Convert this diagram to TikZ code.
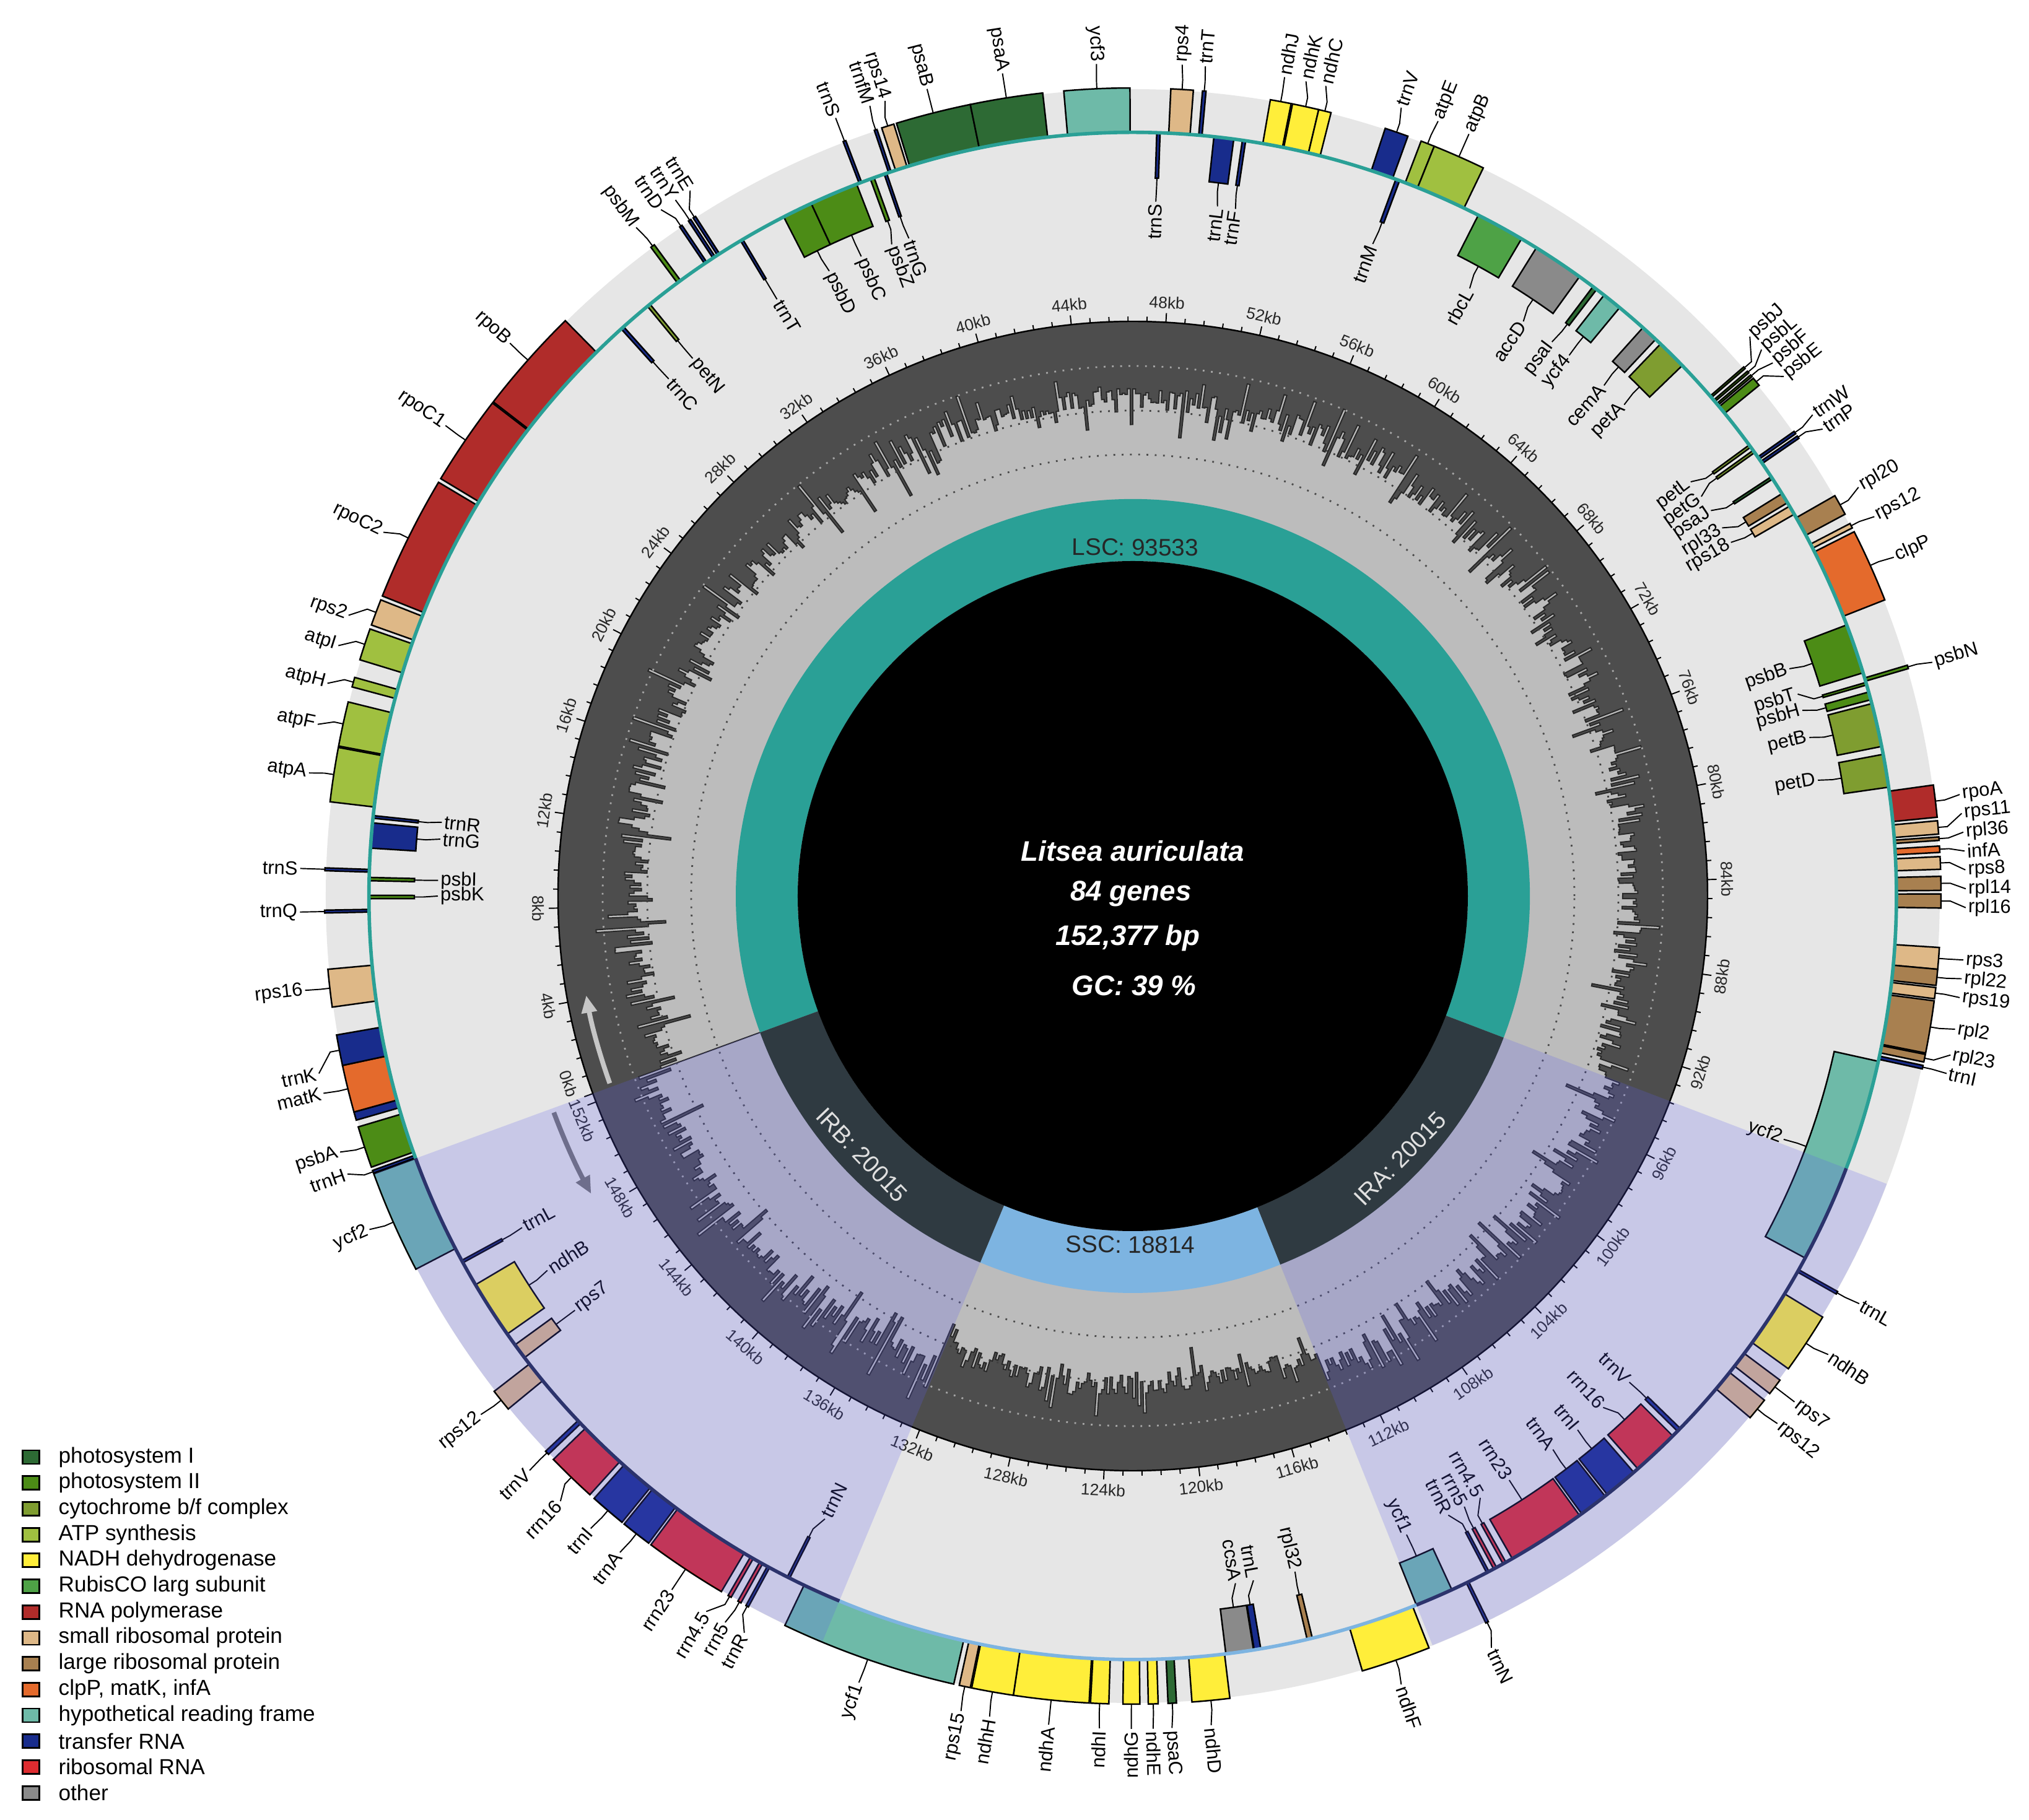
\documentclass[tikz,border=0pt]{standalone}
\usepackage{fontspec}
\setmainfont{Liberation Sans}
\usetikzlibrary{arrows.meta,calc}

% map colours
\definecolor{diskgray}{RGB}{230,230,230}
\definecolor{gcdark}{RGB}{77,77,77}
\definecolor{gclight}{RGB}{188,188,188}
\definecolor{gcedge}{RGB}{40,40,40}
\definecolor{lscteal}{RGB}{42,160,150}
\definecolor{sscblue}{RGB}{125,180,225}
\definecolor{irslate}{RGB}{47,58,65}
\definecolor{irline}{RGB}{30,40,72}
\definecolor{irtint}{RGB}{94,94,239}
\definecolor{arrowslate}{RGB}{110,110,140}
% gene classes
\definecolor{psI}{RGB}{45,106,52}
\definecolor{psII}{RGB}{76,140,22}
\definecolor{cytbf}{RGB}{127,157,48}
\definecolor{atpsyn}{RGB}{160,192,64}
\definecolor{nadh}{RGB}{255,238,58}
\definecolor{rubisco}{RGB}{78,162,70}
\definecolor{rnapol}{RGB}{176,44,42}
\definecolor{smallribo}{RGB}{222,184,135}
\definecolor{largeribo}{RGB}{168,128,80}
\definecolor{clpmat}{RGB}{228,106,44}
\definecolor{hypo}{RGB}{110,186,168}
\definecolor{trna}{RGB}{24,44,140}
\definecolor{rrna}{RGB}{222,44,48}
\definecolor{other}{RGB}{138,138,138}

\tikzset{
  genelabel/.style={font=\fontsize{8.8}{10}\selectfont,inner sep=1pt},
  leader/.style={line width=0.55pt},
  kblabel/.style={font=\fontsize{7.5}{9}\selectfont,text=black!85,inner sep=0pt},
  legbox/.style={draw,line width=0.8pt,minimum width=0.27cm,minimum height=0.22cm,inner sep=0pt},
  legtext/.style={font=\fontsize{10}{12}\selectfont,anchor=west,inner sep=0pt},
  centertext/.style={font=\fontsize{13}{15}\selectfont\bfseries\itshape,text=white},
  regiontext/.style={font=\fontsize{11}{13}\selectfont},
}

% annular sector: start, end, inner r, outer r, fill options
\newcommand\sector[5]{%
  \fill[#5] (#1:#3) arc[start angle=#1,end angle=#2,radius=#3]
    -- (#2:#4) arc[start angle=#2,end angle=#1,radius=#4] -- cycle;}

% gene box on the map: start, end, o(utside)/i(nside), colour
\newcommand\genebox[4]{%
  \if o#3\def\rtop{13.05}\else\def\rtop{11.60}\fi
  \fill[#4,draw=black,line width=0.7pt] (#1:12.33) arc[start angle=#1,end angle=#2,radius=12.33]
    -- (#2:\rtop) arc[start angle=#2,end angle=#1,radius=\rtop] -- cycle;}

% gene with label: start, end, side, colour, name, label angle
\newcount\gid
\newcommand\gene[6]{%
  \genebox{#1}{#2}{#3}{#4}%
  \global\advance\gid by 1
  \edef\gname{g\the\gid}%
  \pgfmathsetmacro\gmid{(#1+#2)/2}%
  \pgfmathtruncatemacro\gright{cos(#6)>=0}%
  \if o#3\def\ra{13.05}\def\rb{13.20}\def\rc{13.45}%
    \ifnum\gright=1 \def\ganc{west}\def\grot{#6}\else\def\ganc{east}\pgfmathsetmacro\grot{#6+180}\fi
  \else\def\ra{11.60}\def\rb{11.45}\def\rc{11.22}%
    \ifnum\gright=1 \def\ganc{east}\def\grot{#6}\else\def\ganc{west}\pgfmathsetmacro\grot{#6+180}\fi
  \fi
  \coordinate (\gname a) at (\gmid:\ra);
  \coordinate (\gname b) at (\gmid:\rb);
  \node[genelabel,anchor=\ganc,rotate=\grot] (\gname) at (#6:\rc) {#5};
  \draw[leader] (\gname a) -- (\gname b) -- (\gname.\ganc);}

\begin{document}
\begin{tikzpicture}

\fill[white] (-18.29,-14.92) rectangle (14.47,14.47);
\useasboundingbox (-18.29,-14.92) rectangle (14.47,14.47);

% outer disk
\fill[diskgray] (0,0) circle (13.03);

% GC content ring
\fill[gcdark] (0,0) circle (9.28);
\pgfmathsetseed{17}
\filldraw[fill=gclight,draw=gcedge,line width=0.55pt] (200.1:6.41)
  \foreach \i in {0,...,1199}{
    let \n1={rand}, \n2={200.1-0.3*\i},
        \n3={8.02+0.25*(\n2<=-20.9)*(\n2>-68.2)-0.15*(\n2<=-68.2)*(\n2>-112.6)+0.25*(\n2<=-112.6)+0.19*rand+0.5*(\n1)*(\n1)*(\n1)*(\n1)*(\n1)}
    in -- (\n2:\n3) -- ({\n2-0.3}:\n3)}
  -- (-159.9:6.41) -- cycle;
\draw[gray!60!black,line width=0.8pt,dash pattern=on 0.8pt off 3pt] (0,0) circle (7.13);
\draw[gray!50!black,line width=0.8pt,dash pattern=on 0.8pt off 3pt] (0,0) circle (7.84);
\draw[gray!70,line width=0.8pt,dash pattern=on 0.8pt off 3pt] (0,0) circle (8.56);
\draw[black,line width=0.7pt] (0,0) circle (9.28);

% ticks and kb labels
\foreach \k in {0,...,190}{
  \pgfmathsetmacro\t{200.1-2.3626*0.8*\k}
  \pgfmathsetmacro\tl{mod(\k,5)==0 ? 0.15 : 0.08}
  \draw[line width=0.55pt] (\t:9.28) -- (\t:9.28+\tl);
}
\foreach \k in {0,4,...,152}{
  \pgfmathsetmacro\t{200.1-2.3626*\k+(\k==0 ? -1.7 : 0)+(\k==152 ? 1.2 : 0)}
  \pgfmathsetmacro\rt{sin(\t)>=0 ? \t-90 : \t+90}
  \node[kblabel,rotate=\rt] (kb\k) at (\t:9.60) {\k kb};
}

% quadripartite ring
\sector{200.1}{-20.9}{5.41}{6.41}{lscteal}
\sector{-20.9}{-68.2}{5.41}{6.41}{irslate}
\sector{-68.2}{-112.6}{5.41}{6.41}{sscblue}
\sector{-112.6}{-159.9}{5.41}{6.41}{irslate}
\fill[black] (0,0) circle (5.41);

% genes: LSC
\gene{199.85}{200.05}{o}{trna}{trnH}{199.5}
\gene{196.6}{199.6}{o}{psII}{psbA}{197.9}
\genebox{195.5}{196.1}{o}{trna}
\gene{192.1}{195.5}{o}{clpmat}{matK}{193.7}
\gene{189.9}{192.1}{o}{trna}{trnK}{192.3}
\gene{185.2}{187.9}{o}{smallribo}{rps16}{186.5}
\gene{181.0}{181.2}{o}{trna}{trnQ}{181.1}
\gene{179.95}{180.2}{i}{psII}{psbK}{180.0}
\gene{178.6}{178.85}{i}{psII}{psbI}{178.7}
\gene{178.0}{178.2}{o}{trna}{trnS}{178.1}
\gene{174.5}{176.4}{i}{trna}{trnG}{175.3}
\gene{173.95}{174.15}{i}{trna}{trnR}{173.9}
\gene{169.4}{173.3}{o}{atpsyn}{atpA}{171.5}
\gene{166.1}{169.3}{o}{atpsyn}{atpF}{168.1}
\gene{164.3}{165.0}{o}{atpsyn}{atpH}{165.2}
\gene{160.7}{163.0}{o}{atpsyn}{atpI}{162.5}
\gene{158.5}{160.4}{o}{smallribo}{rps2}{160.3}
\gene{149.2}{158.2}{o}{rnapol}{rpoC2}{154.1}
\gene{142.4}{148.9}{o}{rnapol}{rpoC1}{145.6}
\gene{134.6}{142.3}{o}{rnapol}{rpoB}{138.4}
\gene{131.8}{132.05}{i}{trna}{trnC}{131.9}
\gene{129.2}{129.45}{i}{cytbf}{petN}{129.3}
\gene{126.3}{126.6}{o}{psII}{psbM}{126.6}
\gene{123.9}{124.1}{o}{trna}{trnD}{124.5}
\gene{123.15}{123.35}{o}{trna}{trnY}{123.3}
\gene{122.75}{122.95}{o}{trna}{trnE}{122.1}
\gene{120.7}{120.9}{i}{trna}{trnT}{120.8}
\gene{114.9}{117.2}{i}{psII}{psbD}{115.9}
\gene{111.2}{114.9}{i}{psII}{psbC}{113.0}
\gene{110.8}{111.0}{o}{trna}{trnS}{110.9}
\gene{109.8}{110.1}{i}{psII}{psbZ}{110.3}
\gene{108.8}{109.0}{i}{trna}{trnG}{108.8}
\gene{108.45}{108.65}{o}{trna}{trnfM}{108.4}
\gene{107.2}{108.1}{o}{smallribo}{rps14}{107.3}
\gene{101.6}{107.0}{o}{psI}{psaB}{104.3}
\gene{96.4}{101.6}{o}{psI}{psaA}{99.0}
\gene{90.2}{94.9}{o}{hypo}{ycf3}{92.5}
\gene{87.95}{88.2}{i}{trna}{trnS}{88.1}
\gene{85.7}{87.3}{o}{smallribo}{rps4}{86.6}
\gene{84.8}{85.05}{o}{trna}{trnT}{85.0}
\gene{82.4}{83.9}{i}{trna}{trnL}{83.0}
\gene{81.5}{81.75}{i}{trna}{trnF}{81.5}
\gene{78.7}{80.2}{o}{nadh}{ndhJ}{79.5}
\gene{76.7}{78.6}{o}{nadh}{ndhK}{78.0}
\gene{75.8}{76.7}{o}{nadh}{ndhC}{76.6}
\gene{70.1}{71.8}{o}{trna}{trnV}{71.2}
\gene{69.55}{69.85}{i}{trna}{trnM}{69.8}
\gene{68.1}{69.1}{o}{atpsyn}{atpE}{68.5}
\gene{64.3}{68.1}{o}{atpsyn}{atpB}{66.2}
\gene{59.4}{63.1}{i}{rubisco}{rbcL}{61.0}
\gene{54.2}{58.1}{i}{other}{accD}{55.8}
\gene{52.6}{52.95}{i}{psI}{psaI}{52.9}
\gene{50.4}{51.9}{i}{hypo}{ycf4}{51.1}
\gene{46.8}{48.1}{i}{other}{cemA}{47.3}
\gene{44.0}{46.3}{i}{cytbf}{petA}{45.0}
\gene{40.75}{40.9}{o}{psII}{psbJ}{42.2}
\gene{40.35}{40.5}{o}{psII}{psbL}{41.0}
\gene{40.0}{40.15}{o}{psII}{psbF}{39.8}
\gene{39.2}{39.85}{o}{psII}{psbE}{38.6}
\gene{36.0}{36.2}{i}{cytbf}{petL}{36.6}
\gene{35.5}{35.7}{i}{cytbf}{petG}{35.1}
\gene{34.9}{35.1}{o}{trna}{trnW}{35.3}
\gene{34.5}{34.7}{o}{trna}{trnP}{34.1}
\gene{33.1}{33.3}{i}{psI}{psaJ}{33.7}
\gene{31.0}{31.8}{i}{largeribo}{rpl33}{32.0}
\gene{30.0}{30.7}{i}{smallribo}{rps18}{30.6}
\gene{28.2}{29.7}{o}{largeribo}{rpl20}{29.4}
\gene{27.1}{27.45}{o}{smallribo}{rps12}{27.1}
\gene{21.5}{26.8}{o}{clpmat}{clpP}{24.0}
\gene{17.0}{20.8}{i}{psII}{psbB}{19.1}
\gene{16.05}{16.25}{i}{psII}{psbT}{16.9}
\gene{16.35}{16.6}{o}{psII}{psbN}{16.3}
\gene{14.9}{15.5}{i}{psII}{psbH}{15.5}
\gene{11.3}{14.6}{i}{cytbf}{petB}{13.2}
\gene{8.2}{10.7}{i}{cytbf}{petD}{9.6}
\gene{5.6}{7.9}{o}{rnapol}{rpoA}{7.0}
\gene{4.4}{5.35}{o}{smallribo}{rps11}{5.7}
\gene{3.95}{4.2}{o}{largeribo}{rpl36}{4.4}
\gene{3.1}{3.55}{o}{clpmat}{infA}{3.1}
\gene{1.9}{2.8}{o}{smallribo}{rps8}{1.8}
\gene{0.4}{1.4}{o}{largeribo}{rpl14}{0.5}
\gene{-0.85}{0.15}{o}{largeribo}{rpl16}{-0.8}
\gene{-5.2}{-3.65}{o}{smallribo}{rps3}{-4.4}
\gene{-6.35}{-5.2}{o}{largeribo}{rpl22}{-5.7}
\gene{-7.3}{-6.5}{o}{smallribo}{rps19}{-7.0}
\gene{-11.2}{-7.45}{o}{largeribo}{rpl2}{-9.2}
\gene{-11.85}{-11.3}{o}{largeribo}{rpl23}{-11.0}
\gene{-12.35}{-12.1}{o}{trna}{trnI}{-12.3}
% IRA
\gene{-28.3}{-12.5}{i}{hypo}{ycf2}{-20.5}
\gene{-29.5}{-29.3}{o}{trna}{trnL}{-29.3}
\gene{-35.8}{-31.4}{o}{nadh}{ndhB}{-33.4}
\gene{-38.0}{-36.8}{o}{smallribo}{rps7}{-37.4}
\gene{-40.2}{-38.6}{o}{smallribo}{rps12}{-39.3}
\gene{-44.5}{-44.2}{i}{trna}{trnV}{-44.4}
\gene{-48.6}{-45.0}{i}{rrna}{rrn16}{-47.4}
\gene{-51.6}{-49.0}{i}{trna}{trnI}{-50.2}
\gene{-54.0}{-51.8}{i}{trna}{trnA}{-52.8}
\gene{-60.2}{-54.2}{i}{rrna}{rrn23}{-57.2}
\gene{-61.0}{-60.75}{i}{rrna}{rrn4.5}{-60.0}
\gene{-61.8}{-61.55}{i}{rrna}{rrn5}{-61.5}
\gene{-62.4}{-62.2}{i}{trna}{trnR}{-63.0}
\gene{-64.1}{-63.9}{o}{trna}{trnN}{-64.5}
\gene{-68.2}{-65.3}{i}{hypo}{ycf1}{-66.8}
% SSC
\gene{-73.5}{-68.5}{o}{nadh}{ndhF}{-71.2}
\gene{-76.8}{-76.4}{i}{largeribo}{rpl32}{-76.5}
\gene{-80.85}{-80.35}{i}{trna}{trnL}{-80.0}
\gene{-83.0}{-80.9}{i}{other}{ccsA}{-81.5}
\gene{-85.8}{-83.1}{o}{nadh}{ndhD}{-84.6}
\gene{-87.5}{-86.9}{o}{psI}{psaC}{-87.3}
\gene{-88.9}{-88.2}{o}{nadh}{ndhE}{-88.6}
\gene{-90.7}{-89.5}{o}{nadh}{ndhG}{-90.1}
\gene{-93.0}{-91.7}{o}{nadh}{ndhI}{-92.3}
\gene{-98.5}{-93.1}{o}{nadh}{ndhA}{-95.8}
\gene{-101.5}{-98.5}{o}{nadh}{ndhH}{-99.9}
\gene{-102.4}{-101.6}{o}{smallribo}{rps15}{-101.9}
\gene{-115.5}{-102.8}{o}{hypo}{ycf1}{-109.2}
% IRB
\gene{-116.9}{-116.7}{i}{trna}{trnN}{-116.3}
\gene{-118.6}{-118.4}{o}{trna}{trnR}{-117.8}
\gene{-119.25}{-119.0}{o}{rrna}{rrn5}{-119.3}
\gene{-120.05}{-119.8}{o}{rrna}{rrn4.5}{-120.8}
\gene{-126.6}{-120.6}{o}{rrna}{rrn23}{-123.6}
\gene{-129.0}{-126.8}{o}{trna}{trnA}{-128.0}
\gene{-131.8}{-129.2}{o}{trna}{trnI}{-130.6}
\gene{-135.8}{-132.2}{o}{rrna}{rrn16}{-133.4}
\gene{-136.6}{-136.3}{o}{trna}{trnV}{-136.4}
\gene{-142.2}{-140.6}{o}{smallribo}{rps12}{-141.5}
\gene{-144.0}{-142.8}{i}{smallribo}{rps7}{-143.4}
\gene{-149.4}{-145.0}{i}{nadh}{ndhB}{-147.4}
\gene{-151.5}{-151.3}{i}{trna}{trnL}{-151.5}
\gene{-159.9}{-152.5}{o}{hypo}{ycf2}{-156.4}

% gene baseline
\draw[lscteal,line width=1.6pt] (200.1:12.33) arc[start angle=200.1,end angle=-20.9,radius=12.33];
\draw[irline,line width=1.6pt] (-20.9:12.33) arc[start angle=-20.9,end angle=-68.2,radius=12.33];
\draw[sscblue,line width=1.6pt] (-68.2:12.33) arc[start angle=-68.2,end angle=-112.6,radius=12.33];
\draw[irline,line width=1.6pt] (-112.6:12.33) arc[start angle=-112.6,end angle=-159.9,radius=12.33];

% inverted repeat shading
\sector{-20.9}{-68.2}{6.41}{13.03}{irtint,opacity=0.22}
\sector{-112.6}{-159.9}{6.41}{13.03}{irtint,opacity=0.22}

% direction arrows
\draw[gray!45,line width=2.2pt,-{Triangle[length=0.28cm,width=0.24cm]}] (199.7:8.97) arc[start angle=199.7,end angle=190.3,radius=8.97];
\draw[arrowslate,line width=2.2pt,-{Triangle[length=0.28cm,width=0.24cm]}] (200.5:9.98) arc[start angle=200.5,end angle=208.8,radius=9.98];

% region labels
\node[regiontext,text=black!85,rotate=-0.4] (lsc) at (89.6:5.63) {LSC: 93533};
\node[regiontext,text=black!85,rotate=-0.4] (ssc) at (-90.4:5.63) {SSC: 18814};
\node[regiontext,text=white!88!black,rotate=-46.3] (irb) at (-136.3:6.05) {IRB: 20015};
\node[regiontext,text=white!88!black,rotate=45.5] (ira) at (-44.5:6.05) {IRA: 20015};

% centre text
\node[centertext] (species) at (0,0.73) {Litsea auriculata};
\node[centertext] (genes) at (-0.03,0.04) {84 genes};
\node[centertext] (length) at (-0.08,-0.68) {152,377 bp};
\node[centertext] (gc) at (0.02,-1.45) {GC: 39 \%};

% legend
\foreach \c/\txt [count=\n] in {psI/photosystem I, psII/photosystem II, cytbf/{cytochrome b/f complex},
    atpsyn/ATP synthesis, nadh/NADH dehydrogenase, rubisco/RubisCO larg subunit,
    rnapol/RNA polymerase, smallribo/small ribosomal protein, largeribo/large ribosomal protein,
    clpmat/{clpP, matK, infA}, hypo/hypothetical reading frame, trna/transfer RNA,
    rrna/ribosomal RNA, other/other}{
  \node[legbox,fill=\c] (leg\n) at (-17.79,{-9.06-0.417*(\n-1)}) {};
  \node[legtext] (legtxt\n) at (-17.35,{-9.06-0.417*(\n-1)}) {\txt};
}

\end{tikzpicture}
\end{document}
